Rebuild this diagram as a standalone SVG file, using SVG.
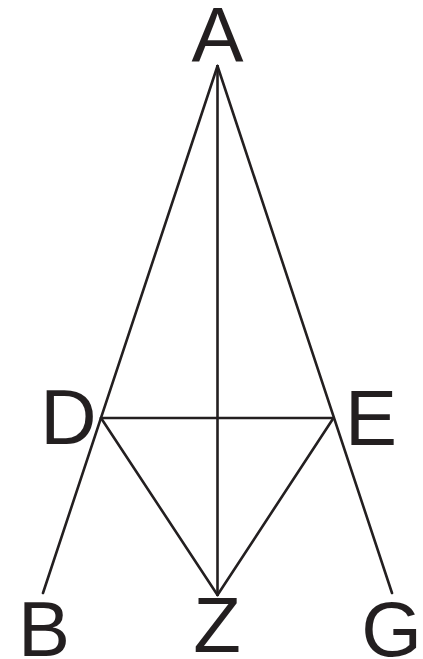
<svg xmlns="http://www.w3.org/2000/svg" width="423" height="659" viewBox="0 0 423 659">
<style>
.l{stroke:#231f20;stroke-width:2.6;fill:none;stroke-linecap:round}
.t{font-family:"Liberation Sans",Arial,sans-serif;font-size:78px;fill:#231f20;text-anchor:middle}
</style>
<rect width="423" height="659" fill="#fff"/>
<g id="connectors">
<line class="l" x1="217.5" y1="66" x2="43" y2="593"/>
<line class="l" x1="217.5" y1="66" x2="392" y2="593"/>
<line class="l" x1="217.5" y1="66" x2="217.5" y2="595"/>
<line class="l" x1="101" y1="418" x2="333.5" y2="418"/>
<line class="l" x1="101" y1="418" x2="217.5" y2="595"/>
<line class="l" x1="333.5" y1="418" x2="217.5" y2="595"/>
</g>
<g id="A"><text class="t" x="217.5" y="62">A</text></g>
<g id="D"><text class="t" x="68.5" y="444">D</text></g>
<g id="E"><text class="t" x="371" y="445">E</text></g>
<g id="B"><text class="t" x="44" y="656">B</text></g>
<g id="Z"><text class="t" x="217" y="652">Z</text></g>
<g id="G"><text class="t" x="391.5" y="656">G</text></g>
</svg>
